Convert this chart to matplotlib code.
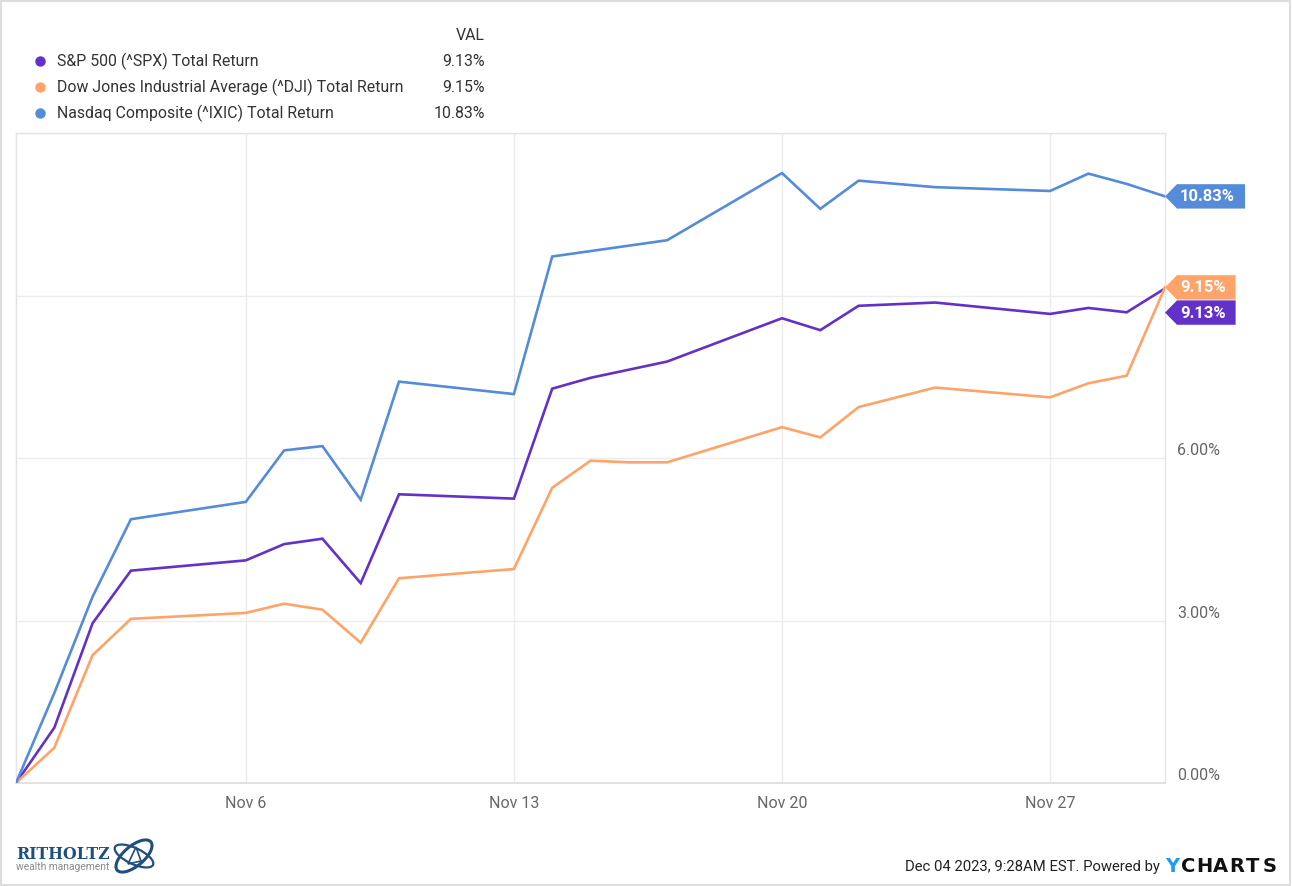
import matplotlib
matplotlib.use("Agg")
import matplotlib.pyplot as plt
import matplotlib.dates as mdates
from matplotlib.patches import Polygon, Rectangle, Ellipse
from matplotlib.lines import Line2D
from matplotlib.transforms import IdentityTransform
import pandas as pd

# ---------------- data ----------------
dates = ["2023-10-31", "2023-11-01", "2023-11-02", "2023-11-03", "2023-11-06",
         "2023-11-07", "2023-11-08", "2023-11-09", "2023-11-10", "2023-11-13",
         "2023-11-14", "2023-11-15", "2023-11-16", "2023-11-17", "2023-11-20",
         "2023-11-21", "2023-11-22", "2023-11-24", "2023-11-27", "2023-11-28",
         "2023-11-29", "2023-11-30"]

spx = [0.00, 1.02, 2.95, 3.92, 4.11, 4.41, 4.51, 3.69, 5.33, 5.25, 7.28, 7.48,
       7.63, 7.78, 8.58, 8.36, 8.81, 8.87, 8.66, 8.77, 8.69, 9.13]
dji = [0.00, 0.65, 2.36, 3.03, 3.14, 3.31, 3.20, 2.59, 3.78, 3.95, 5.45, 5.95,
       5.92, 5.92, 6.57, 6.38, 6.94, 7.30, 7.12, 7.38, 7.52, 9.15]
ixic = [0.00, 1.66, 3.44, 4.87, 5.19, 6.14, 6.22, 5.23, 7.41, 7.18, 9.72, 9.82,
        9.92, 10.02, 11.26, 10.60, 11.12, 11.00, 10.93, 11.25, 11.06, 10.83]

series_names = ["S&P 500 (^SPX) Total Return",
                "Dow Jones Industrial Average (^DJI) Total Return",
                "Nasdaq Composite (^IXIC) Total Return"]
series_values = [spx, dji, ixic]
series_colors = ["#6232c8", "#ffa469", "#558cd9"]

x_ticks = ["2023-11-06", "2023-11-13", "2023-11-20", "2023-11-27"]
x_tick_labels = ["Nov 6", "Nov 13", "Nov 20", "Nov 27"]
y_ticks = [0, 3, 6, 9, 12]
y_tick_labels = ["0.00%", "3.00%", "6.00%", "", ""]

# ---------------- figure ----------------
W, H = 1292, 886
fig = plt.figure(figsize=(W / 100, H / 100), dpi=100)
fig.patch.set_facecolor("white")
FONT = ["Roboto", "DejaVu Sans"]


def fx(px):
    return px / W


def fy(py):
    return 1 - py / H


left, right, top, bottom = 16, 1165, 133, 783
ax = fig.add_axes([fx(left), fy(bottom), (right - left) / W, (bottom - top) / H])

x = pd.to_datetime(dates)
for vals, col in zip(series_values, series_colors):
    ax.plot(x, vals, color=col, lw=1.9, solid_joinstyle="miter", zorder=3)

ax.set_xlim(x[0], x[-1])
ax.set_ylim(0, 12)
ax.set_xticks(pd.to_datetime(x_ticks))
ax.set_xticklabels(x_tick_labels, fontfamily=FONT, fontsize=11.5, color="#666666")
ax.set_yticks(y_ticks)
ax.yaxis.tick_right()
ax.set_yticklabels(y_tick_labels, fontfamily=FONT, fontsize=11.5, color="#666666")
for lab in ax.get_yticklabels():
    lab.set_verticalalignment("bottom")
ax.tick_params(axis="both", length=0)
ax.tick_params(axis="x", pad=9)
ax.tick_params(axis="y", pad=9)
ax.grid(True, color="#ececec", lw=1.0)
ax.set_axisbelow(True)
for s in ["left", "top", "right"]:
    ax.spines[s].set_color("#e4e4e4")
    ax.spines[s].set_linewidth(1.0)
ax.spines["bottom"].set_color("#dcdcdc")
ax.spines["bottom"].set_linewidth(1.2)

# ---------------- legend ----------------
LEG_FS = 11.4
fig.text(fx(485), fy(35), "VAL", ha="right", va="center", fontfamily=FONT,
         fontsize=LEG_FS, color="#333333")
row_y = [61, 87, 113]
for name, vals, col, ry in zip(series_names, series_values, series_colors, row_y):
    fig.add_artist(Line2D([fx(40)], [fy(ry)], marker="o", ms=6.5, color=col,
                          transform=fig.transFigure))
    fig.text(fx(57), fy(ry), name, ha="left", va="center", fontfamily=FONT,
             fontsize=LEG_FS, color="#333333")
    fig.text(fx(485), fy(ry), f"{vals[-1]:.2f}%", ha="right", va="center",
             fontfamily=FONT, fontsize=LEG_FS, color="#333333")

# ---------------- end-value tags ----------------
fig.canvas.draw()
renderer = fig.canvas.get_renderer()
tags = []
for vals, col in zip(series_values, series_colors):
    xd, yd = ax.transData.transform((mdates.date2num(x[-1]), vals[-1]))
    tags.append([vals[-1], yd, col])
tags.sort(key=lambda t: -t[0])
half = 12.2
for i in range(1, len(tags)):
    if tags[i][1] > tags[i - 1][1] - 2 * half - 0.8:
        tags[i][1] = tags[i - 1][1] - 2 * half - 0.8
tip_x = ax.transAxes.transform((1, 0))[0]
for val, yd, col in tags:
    t = fig.text(0, 0, f"{val:.2f}%", ha="left", va="center", fontfamily=FONT,
                 fontsize=12, fontweight="bold", color="white",
                 transform=IdentityTransform(), zorder=6)
    t.set_position((tip_x + 15, yd - 0.5))
    ext = t.get_window_extent(renderer)
    rx = ext.x1 + 10
    poly = Polygon([(tip_x, yd), (tip_x + 12, yd + half), (rx, yd + half),
                    (rx, yd - half), (tip_x + 12, yd - half)], closed=True,
                   facecolor=col, edgecolor="none", transform=IdentityTransform(),
                   zorder=5)
    fig.add_artist(poly)

# ---------------- footer ----------------
fig.text(fx(16), fy(859), "RITHOLTZ", ha="left", va="baseline",
         fontfamily=["DejaVu Serif"], fontsize=11.3, fontweight="bold",
         color="#1f4f7d")
fig.text(fx(16), fy(870), "wealth management", ha="left", va="baseline",
         fontfamily=FONT, fontsize=7.4, color="#8a8a8a")
cx, cy = 134, H - 856
fig.add_artist(Ellipse((cx, cy), 44, 20, angle=40, fill=False, edgecolor="#1f4f7d",
                       lw=2.2, transform=IdentityTransform()))
fig.add_artist(Ellipse((cx, cy), 42, 16, angle=-25, fill=False, edgecolor="#1f4f7d",
                       lw=1.6, transform=IdentityTransform()))
fig.add_artist(Polygon([(cx - 6, cy - 8), (cx + 2, cy + 9), (cx + 7, cy - 5)],
                       closed=True, fill=False, edgecolor="#1f4f7d", lw=1.2,
                       transform=IdentityTransform()))

fig.text(fx(1160), fy(867), "Dec 04 2023, 9:28AM EST. Powered by", ha="right",
         va="center", fontfamily=FONT, fontsize=10.7, color="#222222")
letters = "YCHARTS"
for i, ch in enumerate(letters):
    fig.text(fx(1172 + i * 16.2), fy(867), ch, ha="center", va="center",
             fontfamily=["DejaVu Sans"], fontsize=14, fontweight="bold",
             color="#1e9cf0" if i == 0 else "#111111")

# outer frame
fig.add_artist(Rectangle((0.5, 1.5), W - 3, H - 2, fill=False, edgecolor="#dddddd",
                         lw=1.5, transform=IdentityTransform()))

fig.savefig("out.png", dpi=100, facecolor="white")
